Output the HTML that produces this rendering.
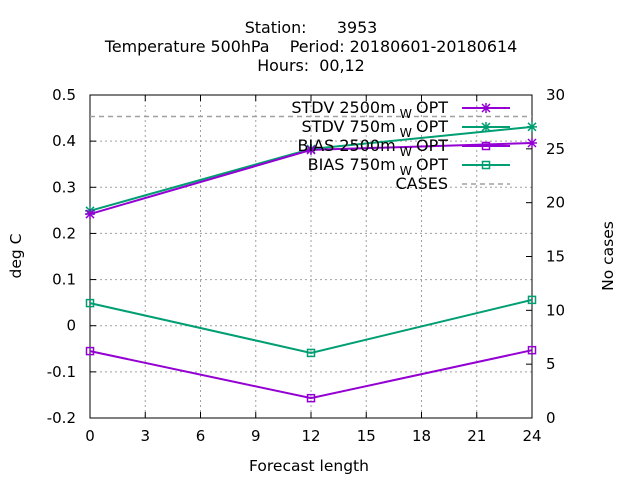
<!DOCTYPE html>
<html><head><meta charset="utf-8"><style>body{margin:0;background:#fff}svg{display:block;font-family:"DejaVu Sans","Liberation Sans",sans-serif}text{white-space:pre}</style></head>
<body>
<svg id="c" width="640" height="480">
<g font-size="15.9" text-anchor="middle" fill="#000">
<text x="311" y="33" xml:space="preserve">Station:      3953</text>
<text x="311" y="52" xml:space="preserve">Temperature 500hPa    Period: 20180601-20180614</text>
<text x="311" y="71" xml:space="preserve">Hours:  00,12</text>
</g>
<text x="309" y="471" font-size="15.5" text-anchor="middle">Forecast length</text>
<text transform="translate(21,256) rotate(-90)" font-size="15.5" text-anchor="middle">deg C</text>
<text transform="translate(613,256) rotate(-90)" font-size="15.5" text-anchor="middle">No cases</text>
<g id="grid"></g><g id="axes"></g><g id="series"></g><g id="legend"></g>
</svg>
<script>
const xTicks=[0,3,6,9,12,15,18,21,24];
const yTicks=[-0.2,-0.1,0,0.1,0.2,0.3,0.4,0.5];
const y2Ticks=[0,5,10,15,20,25,30];
const steps=[0,12,24];
const stdv2500=[0.242,0.381,0.396];
const stdv750=[0.249,0.383,0.431];
const bias2500=[-0.055,-0.157,-0.053];
const bias750=[0.049,-0.059,0.056];
const cases=[28,28,28];
const L=90,R=532,T=95,B=418;
const X=v=>L+(v-0)/24*(R-L);
const Y=v=>B-(v+0.2)/0.7*(B-T);
const Y2=v=>B-v/30*(B-T);
const NS="http://www.w3.org/2000/svg";
function mk(p,t,a){const e=document.createElementNS(NS,t);for(const k in a)e.setAttribute(k,a[k]);document.getElementById(p).appendChild(e);return e;}
xTicks.forEach(v=>{const x=X(v);
 if(v>0&&v<24){const g=mk('grid','line',{x1:x,x2:x,y1:T,y2:B,stroke:'#a0a0a0','stroke-dasharray':'2,3'});}
 mk('axes','line',{x1:x,x2:x,y1:B,y2:B-6,stroke:'#000'});mk('axes','line',{x1:x,x2:x,y1:T,y2:T+6,stroke:'#000'});
 const t=mk('axes','text',{x:x,y:B+23,'font-size':15,'text-anchor':'middle'});t.textContent=v;
 });
yTicks.forEach(v=>{const y=Y(v);
 if(v>-0.2&&v<0.5){const g=mk('grid','line',{x1:L,x2:R,y1:y,y2:y,stroke:'#a0a0a0','stroke-dasharray':'2,3'});}
 mk('axes','line',{x1:L,x2:L+6,y1:y,y2:y,stroke:'#000'});
 const t=mk('axes','text',{x:76,y:y+5,'font-size':15,'text-anchor':'end'});t.textContent=(Math.round(v*10)/10).toString();
 });
y2Ticks.forEach(v=>{const y=Y2(v);
 mk('axes','line',{x1:R,x2:R-6,y1:y,y2:y,stroke:'#000'});
 const t=mk('axes','text',{x:546,y:y+5,'font-size':15});t.textContent=v;
 });
const fr=mk('axes','rect',{x:L,y:T,width:R-L,height:B-T,fill:'none',stroke:'#000'});

function marker(g,x,y,type,col){
 if(type==='x'){mk(g,'path',{d:`M${x-4},${y-4}L${x+4},${y+4}M${x-4},${y+4}L${x+4},${y-4}M${x-5},${y}L${x+5},${y}M${x},${y-5}L${x},${y+5}`,stroke:col,'stroke-width':1.5});}
 else mk(g,'rect',{x:x-3.5,y:y-3.5,width:7,height:7,fill:'none',stroke:col,'stroke-width':1.5});}
const ser=[[cases,'#a0a0a0','none','CASES',true],[bias750,'#009e73','s','BIAS 750m',false],[bias2500,'#9400d3','s','BIAS 2500m',false],[stdv750,'#009e73','x','STDV 750m',false],[stdv2500,'#9400d3','x','STDV 2500m',false]];
ser.forEach(([d,col,m,name,dash])=>{
 const pts=steps.map((s,i)=>[X(s),dash?Y2(d[i]):Y(d[i])]);
 const p=mk('series','polyline',{points:pts.map(p=>p.join(',')).join(' '),fill:'none',stroke:col,'stroke-width':dash?1.5:2,'stroke-dasharray':dash?'5,4':'none'});
 
 
 if(m!=='none')pts.forEach(q=>marker('series',q[0],q[1],m,col));});
const leg=[['STDV 2500m','#9400d3','x'],['STDV 750m','#009e73','x'],['BIAS 2500m','#9400d3','s'],['BIAS 750m','#009e73','s'],['CASES','#a0a0a0','none']];
leg.forEach(([n,col,m],i)=>{const y=108+i*19;
 const t=mk('legend','text',{x:448,y:y+5,'font-size':16,'text-anchor':'end'});
 if(m==='none')t.textContent=n;else t.innerHTML=n+'<tspan dy="5" font-size="12.5"> W </tspan><tspan dy="-5">OPT</tspan>';
 
 mk('legend','line',{x1:462,x2:510,y1:y,y2:y,stroke:col,'stroke-width':m==='none'?1.5:2,'stroke-dasharray':m==='none'?'5,4':'none'});
 if(m!=='none')marker('legend',486,y,m,col);});
</script>
</body></html>
